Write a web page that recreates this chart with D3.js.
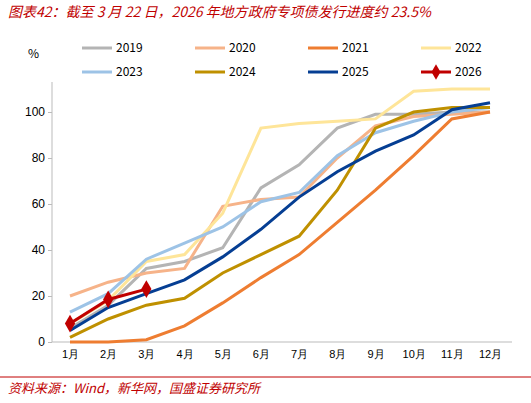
<!DOCTYPE html>
<html><head><meta charset="utf-8">
<script src="https://cdn.jsdelivr.net/npm/d3@7"></script>
<style>body{margin:0;background:#fff;font-family:"Noto Sans CJK SC","Noto Sans",sans-serif;}</style>
</head><body><svg id="c" width="531" height="403"></svg>
<script>
const months = ['1月','2月','3月','4月','5月','6月','7月','8月','9月','10月','11月','12月'];
const yTicks = [0, 20, 40, 60, 80, 100];
const s2019 = [6,16,32,35,41,67,77,93,99,99,100,100];
const s2020 = [20,26,30,32,59,62,63,80,94,98,99,100];
const s2021 = [0,0,1,7,17,28,38,52,66,81,97,100];
const s2022 = [8,18,35,38,56,93,95,96,97,109,110,110];
const s2023 = [13,21,36,43,50,61,65,81,91,96,100,102];
const s2024 = [2,10,16,19,30,38,46,66,93,100,102,102];
const s2025 = [5,15,21,27,37,49,63,74,83,90,101,104];
const s2026 = [8,18.5,23];

const series = [
  {name:'2019', v:s2019, c:'#b4b4b4'},
  {name:'2020', v:s2020, c:'#f6b389'},
  {name:'2021', v:s2021, c:'#ee7d31'},
  {name:'2022', v:s2022, c:'#fee599'},
  {name:'2023', v:s2023, c:'#9dc3e6'},
  {name:'2024', v:s2024, c:'#bf9000'},
  {name:'2025', v:s2025, c:'#053e93'},
  {name:'2026', v:s2026, c:'#c00000', marker:true}
];

const svg = d3.select('#c');
svg.append('text').attr('x', 8).attr('y', 17).attr('fill', '#c00000')
  .style('font-style', 'italic').style('font-size', '14px')
  .text('图表42：截至 3 月 22 日，2026 年地方政府专项债发行进度约 23.5%');

const x = d3.scalePoint().domain(months).range([70, 490]);
const y = d3.scaleLinear().domain([0, 100]).range([342, 112]);

svg.append('text').attr('x', 28).attr('y', 58).style('font-size', '12px').text('%');

const ya = svg.append('g').attr('transform', 'translate(52,0)')
  .call(d3.axisLeft(y).tickValues(yTicks).tickSize(4).tickSizeOuter(0));
ya.select('.domain').attr('stroke', '#bbb').attr('d', 'M0,342V82');
ya.selectAll('line').attr('stroke', '#bbb');
ya.selectAll('text').style('font-size', '12px').attr('fill', '#000');

const xa = svg.append('g').attr('transform', 'translate(0,342)')
  .call(d3.axisBottom(x).tickSize(0).tickPadding(8));
xa.select('.domain').attr('stroke', '#bbb').attr('d', 'M52,0H512');
xa.selectAll('text').style('font-size', '11px').attr('fill', '#000');

const line = d3.line().x((d, i) => x(months[i])).y(d => y(d));
series.forEach(s => {
  svg.append('path').attr('d', line(s.v)).attr('fill', 'none')
    .attr('stroke', s.c).attr('stroke-width', 3);
  if (s.marker) {
    svg.selectAll(null).data(s.v).enter().append('path')
      .attr('d', d3.symbol(d3.symbolDiamond, 90))
      .attr('transform', (d, i) => `translate(${x(months[i])},${y(d)})`)
      .attr('fill', s.c);
  }
});

const lg = svg.append('g');
series.forEach((s, i) => {
  const gx = 82 + (i % 4) * 113, gy = 48 + Math.floor(i / 4) * 24;
  lg.append('line').attr('x1', gx).attr('x2', gx + 30).attr('y1', gy).attr('y2', gy)
    .attr('stroke', s.c).attr('stroke-width', 3);
  if (s.marker) lg.append('path').attr('d', d3.symbol(d3.symbolDiamond, 70))
    .attr('transform', `translate(${gx + 15},${gy})`).attr('fill', s.c);
  lg.append('text').attr('x', gx + 34).attr('y', gy + 4).style('font-size', '12px').text(s.name);
});

svg.append('line').attr('x1', 0).attr('x2', 531).attr('y1', 377).attr('y2', 377)
  .attr('stroke', '#c00000').attr('stroke-width', 1);
svg.append('text').attr('x', 8).attr('y', 393).attr('fill', '#c00000')
  .style('font-style', 'italic').style('font-size', '13px')
  .text('资料来源：Wind，新华网，国盛证券研究所');
</script></body></html>
